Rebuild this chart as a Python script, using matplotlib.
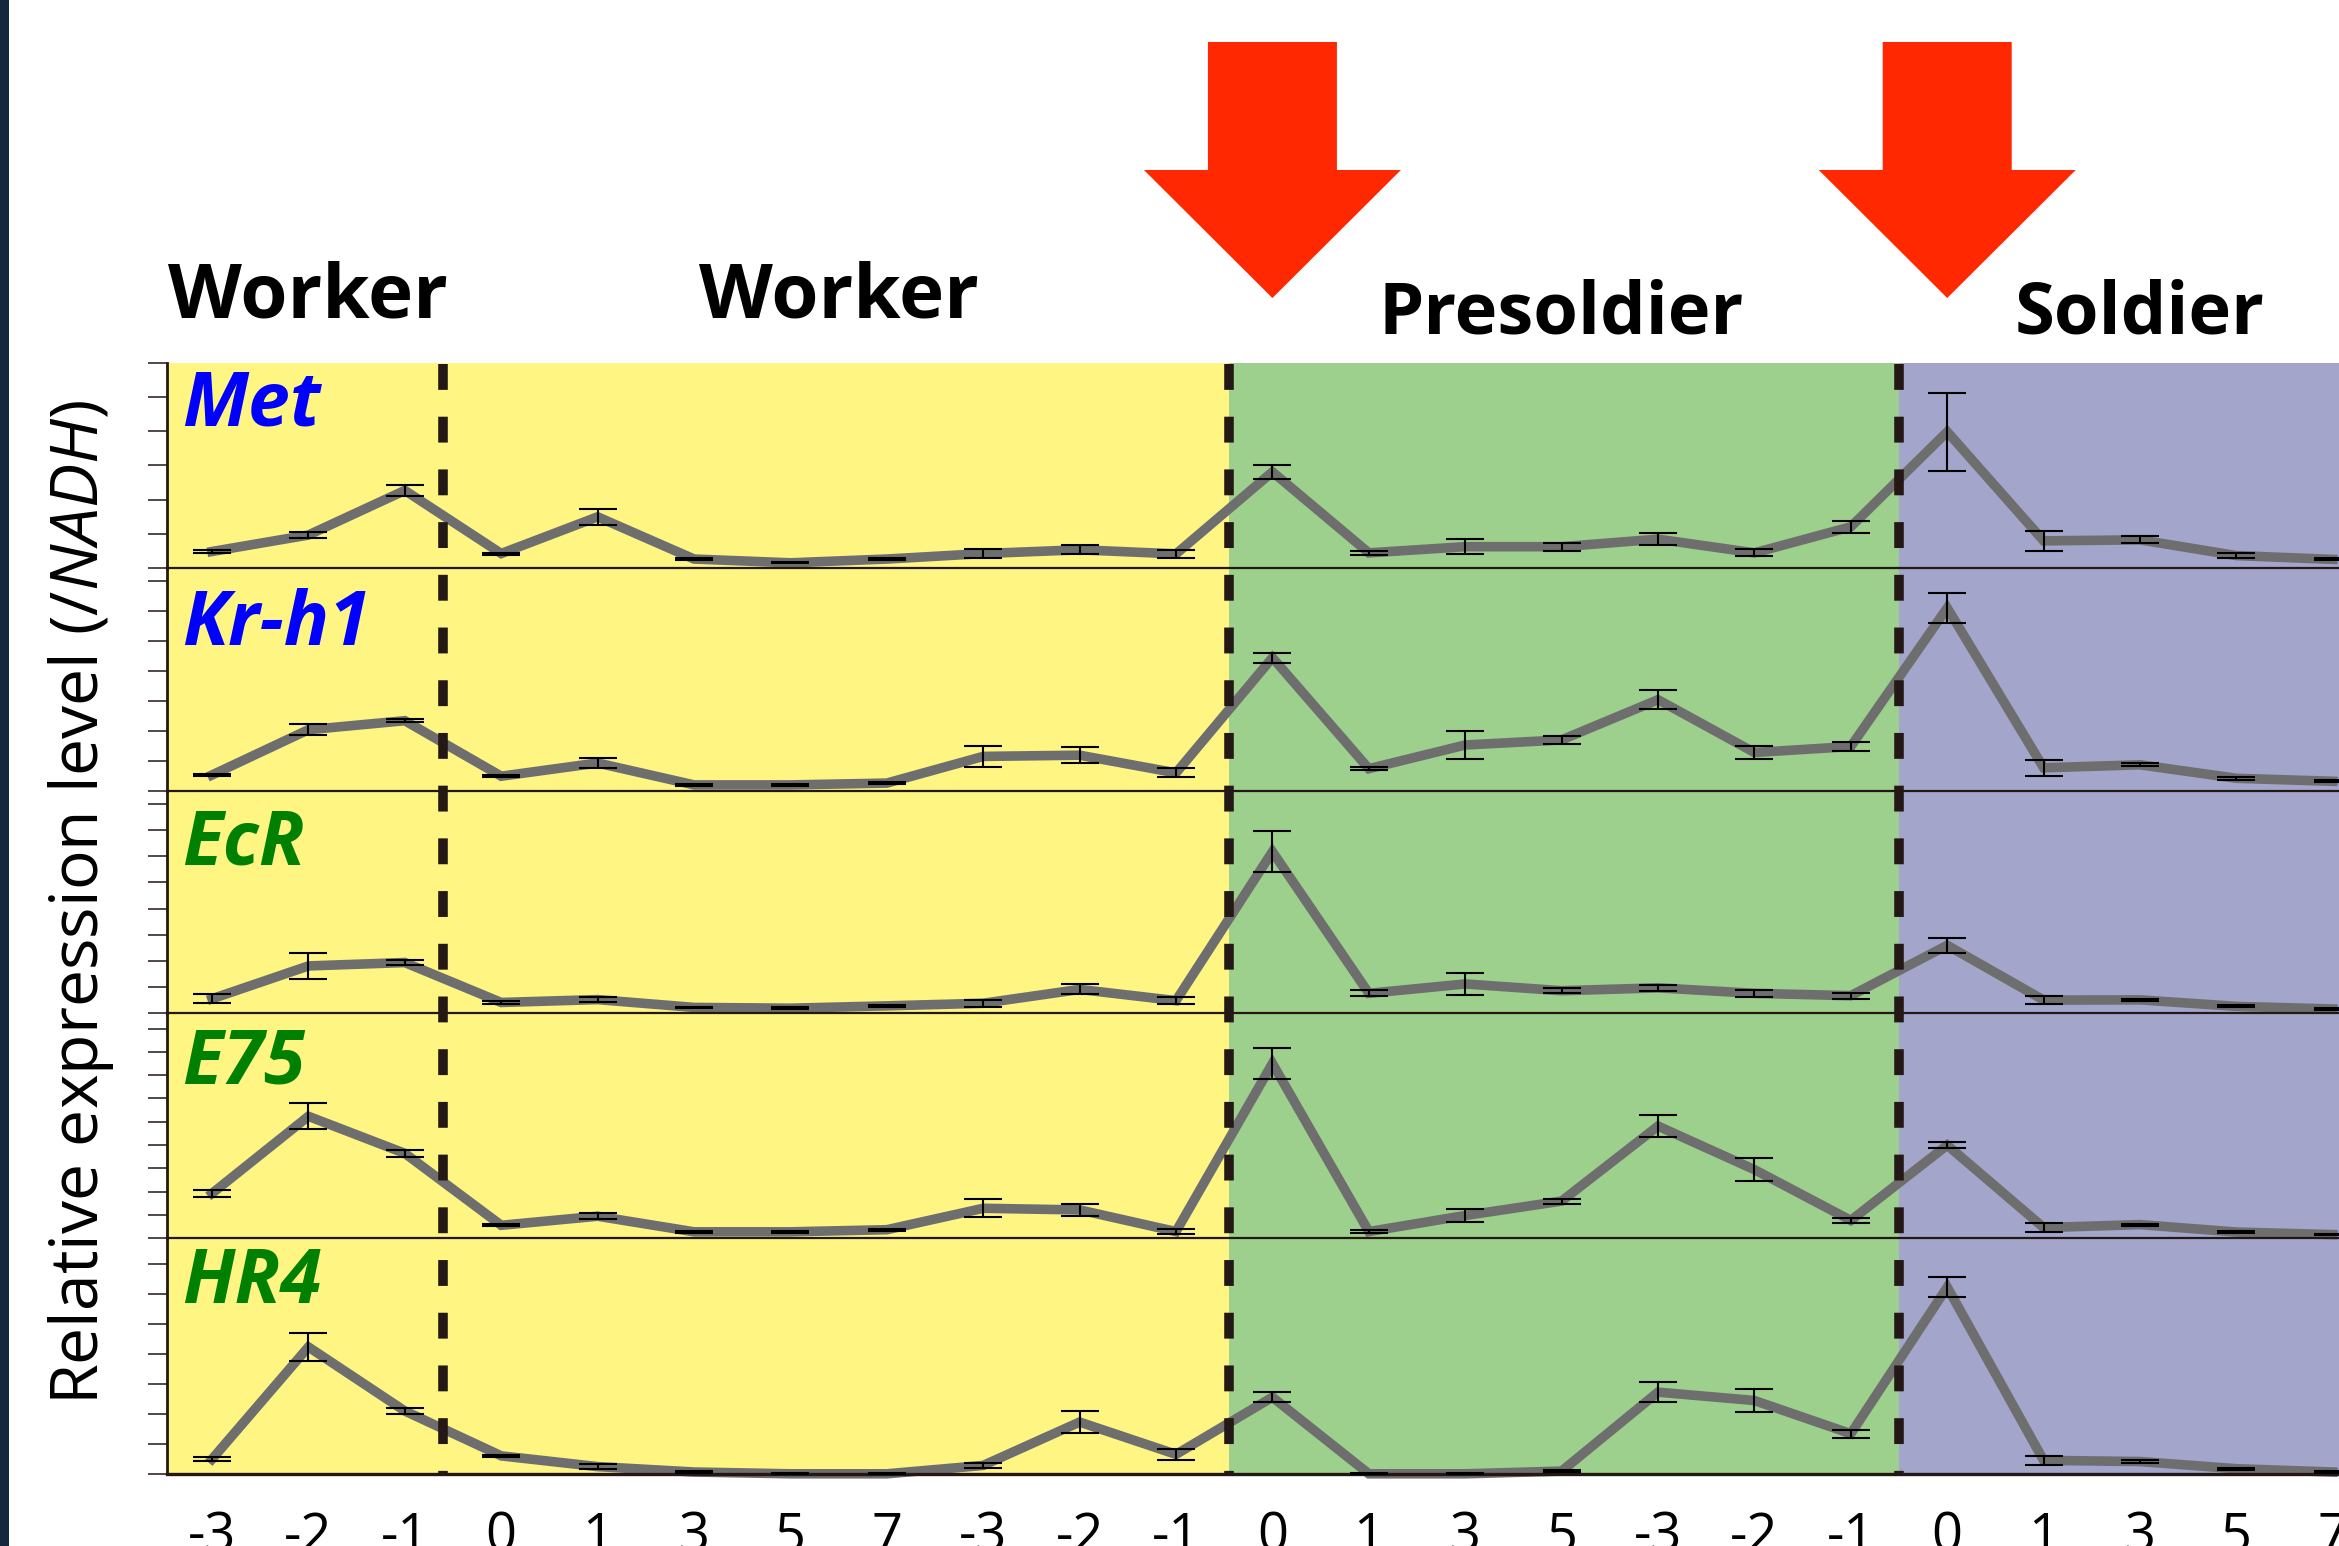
import matplotlib
matplotlib.use('Agg')
import matplotlib.pyplot as plt
import matplotlib.transforms as mtrans
from matplotlib.patches import Polygon, Rectangle
import numpy as np

plt.rcParams['font.family'] = ['Open Sans', 'DejaVu Sans']
plt.rcParams['mathtext.fontset'] = 'custom'
plt.rcParams['mathtext.rm'] = 'Open Sans'
plt.rcParams['mathtext.it'] = 'Open Sans:italic'

# ---------------- data ----------------
day_labels = ["-3", "-2", "-1", "0", "1", "3", "5", "7", "-3", "-2", "-1",
              "0", "1", "3", "5", "-3", "-2", "-1", "0", "1", "3", "5", "7"]

genes = ["Met", "Kr-h1", "EcR", "E75", "HR4"]
gene_colors = ["#0000ff", "#0000ff", "#008000", "#008000", "#008000"]

met_mean = [0.49, 0.97, 2.27, 0.43, 1.50, 0.27, 0.16, 0.27, 0.43, 0.54, 0.42, 2.81,
            0.45, 0.63, 0.63, 0.85, 0.45, 1.21, 3.98, 0.80, 0.83, 0.37, 0.26]
met_se = [0.04, 0.09, 0.15, 0.03, 0.24, 0.03, 0.02, 0.03, 0.13, 0.13, 0.12, 0.20,
          0.06, 0.22, 0.12, 0.17, 0.10, 0.18, 1.13, 0.30, 0.10, 0.07, 0.03]

krh1_mean = [0.52, 2.03, 2.33, 0.48, 0.92, 0.19, 0.19, 0.25, 1.14, 1.18, 0.59, 4.43,
             0.73, 1.52, 1.69, 3.03, 1.27, 1.47, 6.09, 0.76, 0.86, 0.41, 0.31]
krh1_se = [0.03, 0.18, 0.05, 0.03, 0.17, 0.03, 0.03, 0.03, 0.34, 0.27, 0.15, 0.16,
           0.05, 0.48, 0.12, 0.32, 0.21, 0.15, 0.51, 0.27, 0.05, 0.04, 0.03]

ecr_mean = [0.54, 1.80, 1.93, 0.40, 0.51, 0.21, 0.18, 0.27, 0.37, 0.90, 0.47, 6.18,
            0.75, 1.11, 0.85, 0.96, 0.75, 0.66, 2.59, 0.49, 0.50, 0.25, 0.15]
ecr_se = [0.17, 0.50, 0.10, 0.04, 0.11, 0.03, 0.03, 0.04, 0.13, 0.19, 0.13, 0.79,
          0.11, 0.41, 0.10, 0.11, 0.13, 0.12, 0.28, 0.16, 0.05, 0.04, 0.03]

e75_mean = [1.92, 5.23, 3.64, 0.55, 0.94, 0.27, 0.27, 0.36, 1.28, 1.21, 0.28, 7.50,
            0.28, 0.97, 1.59, 4.81, 2.94, 0.76, 3.99, 0.45, 0.58, 0.26, 0.15]
e75_se = [0.15, 0.55, 0.14, 0.05, 0.14, 0.04, 0.04, 0.05, 0.38, 0.27, 0.10, 0.67,
          0.05, 0.30, 0.11, 0.47, 0.50, 0.10, 0.14, 0.20, 0.04, 0.04, 0.03]

hr4_mean = [0.49, 4.24, 2.10, 0.60, 0.24, 0.06, 0.0, 0.0, 0.28, 1.73, 0.65, 2.56,
            0.0, 0.0, 0.09, 2.73, 2.45, 1.34, 6.24, 0.45, 0.41, 0.17, 0.06]
hr4_se = [0.07, 0.46, 0.09, 0.03, 0.08, 0.03, 0.02, 0.02, 0.08, 0.37, 0.18, 0.17,
          0.02, 0.02, 0.03, 0.33, 0.40, 0.13, 0.33, 0.15, 0.04, 0.04, 0.03]

stage_names = ["Worker", "Worker", "Presoldier", "Soldier"]
stage_first = [0, 3, 11, 18]
stage_last = [2, 10, 17, 22]
molt_points = [11, 18]
stage_boundaries = [2.4, 10.55, 17.5]
tick_counts = [6, 7, 8, 9, 7]
ylim_tops = [6.0, 7.41, 8.52, 9.67, 7.88]

means = [met_mean, krh1_mean, ecr_mean, e75_mean, hr4_mean]
ses = [met_se, krh1_se, ecr_se, e75_se, hr4_se]

# ---------------- layout ----------------
W, H = 2339, 1546
fig = plt.figure(figsize=(W / 100, H / 100), dpi=100)
fig.patch.set_facecolor('white')

px_per_unit = 96.4
x0, x1 = -0.467, 23.0
left_px = 167
ax_left = left_px / W
ax_width = (x1 - x0) * px_per_unit / W
edges = [362.5, 568.3, 790.6, 1012.9, 1238.1, 1473.8]
dark = '#231815'

x = np.arange(len(day_labels))

# background
bg = fig.add_axes([ax_left, 1 - edges[-1] / H, ax_width, (edges[-1] - edges[0]) / H], zorder=0)
bg.set_xlim(x0, x1)
bg.set_ylim(0, 1)
bg.axis('off')
bg.axvspan(x0, stage_boundaries[1], color='#fff583', lw=0)
bg.axvspan(stage_boundaries[1], stage_boundaries[2], color='#9dd08c', lw=0)
bg.axvspan(stage_boundaries[2], x1, color='#a3a5cb', lw=0)

label_offsets = [6, 20, 17, 14, 8]
axes = []
for i in range(5):
    top, bot = edges[i], edges[i + 1]
    ax = fig.add_axes([ax_left, 1 - bot / H, ax_width, (bot - top) / H], zorder=1)
    ax.set_facecolor('none')
    ax.set_xlim(x0, x1)
    ax.set_ylim(0, ylim_tops[i])
    ax.plot(x, means[i], color='#6e6e6e', lw=6.9, clip_on=False, zorder=2,
            solid_joinstyle='miter')
    ax.errorbar(x, means[i], yerr=ses[i], fmt='none', ecolor='black', elinewidth=1.5,
                capsize=14, capthick=1.5, zorder=3, clip_on=False)
    for s in ['top', 'right']:
        ax.spines[s].set_visible(False)
    ax.spines['left'].set_color(dark)
    ax.spines['left'].set_linewidth(2.0)
    ax.spines['bottom'].set_color(dark)
    ax.spines['bottom'].set_linewidth(2.4 if i == 4 else 1.6)
    ax.set_yticks(np.arange(0, tick_counts[i] + 1))
    ax.tick_params(axis='y', direction='out', length=14, width=1.1, color=dark,
                   labelleft=False)
    if i < 4:
        ax.tick_params(axis='x', length=0, labelbottom=False)
    else:
        ax.set_xticks(x)
        ax.set_xticklabels(day_labels)
        ax.tick_params(axis='x', length=0, pad=26, labelsize=39, colors='black')
    ax.annotate(genes[i], xy=(0, 1), xycoords='axes fraction',
                xytext=(15, -label_offsets[i]), textcoords='offset pixels',
                ha='left', va='top', fontsize=54, fontweight='bold', fontstyle='italic',
                color=gene_colors[i])
    axes.append(ax)

# overlay for dashed stage boundaries, arrows and stage names
ov = fig.add_axes([ax_left, 1 - edges[-1] / H, ax_width, (edges[-1] - edges[0]) / H], zorder=5)
ov.set_facecolor('none')
ov.set_xlim(x0, x1)
ov.set_ylim(0, 1)
ov.axis('off')
ytop = (edges[-1] - 363.7) / (edges[-1] - edges[0])
for b in stage_boundaries:
    ov.plot([b, b], [ytop, 0], color=dark, lw=6.9, dashes=(2.7, 2.8),
            solid_capstyle='butt', dash_capstyle='butt')

blend = mtrans.blended_transform_factory(ov.transData, fig.transFigure)
hw = 129 / 2 / px_per_unit
hh = 257 / 2 / px_per_unit
yt, yb, ytip = 1 - 42 / H, 1 - 170 / H, 1 - 298 / H
for m in molt_points:
    verts = [(m - hw, yt), (m + hw, yt), (m + hw, yb), (m + hh, yb), (m, ytip),
             (m - hh, yb), (m - hw, yb)]
    ov.add_patch(Polygon(verts, closed=True, transform=blend, clip_on=False,
                         facecolor='#ff2800', edgecolor='none'))

stage_y = [1 - 318 / H, 1 - 318 / H, 1 - 333 / H, 1 - 333 / H]
stage_fs = [55, 55, 52, 52]
for name, a, b, yy, fs in zip(stage_names, stage_first, stage_last, stage_y, stage_fs):
    ov.text((a + b) / 2, yy, name, transform=blend, ha='center', va='baseline',
            fontsize=fs, fontweight='bold', color='black', clip_on=False)

# left dark band
fig.add_artist(Rectangle((0, 0), 9.5 / W, 1, transform=fig.transFigure,
                         facecolor='#15263f', edgecolor='none'))

# y label
fig.text(98.5 / W, 1 - 902 / H, r'Relative expression level (/$\mathit{NADH}$)',
         rotation=90, rotation_mode='anchor', ha='center', va='baseline',
         fontsize=47.6, color='black')

fig.savefig('out.png', dpi=100)
